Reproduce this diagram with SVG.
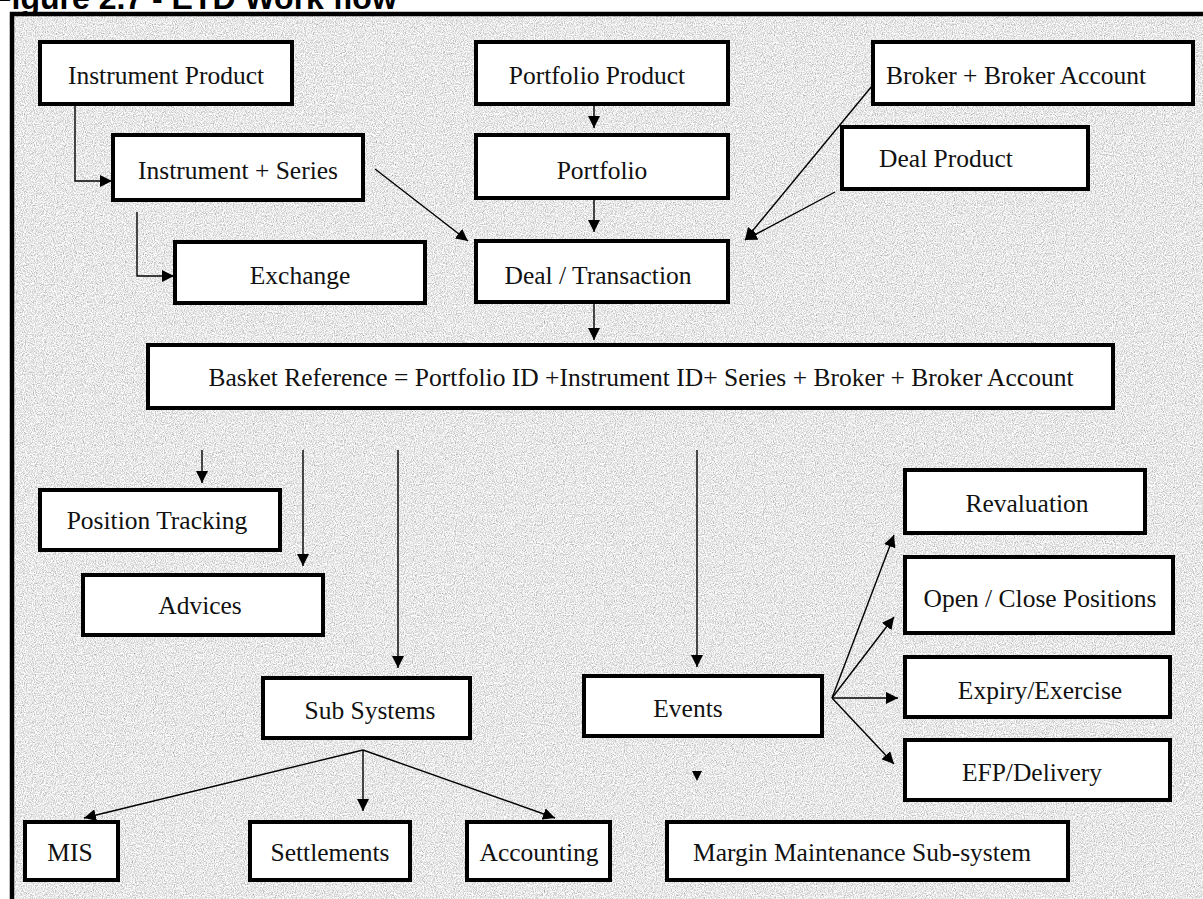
<svg xmlns="http://www.w3.org/2000/svg" width="1203" height="899" viewBox="0 0 1203 899">
<defs>
<filter id="grain" x="0" y="0" width="100%" height="100%" color-interpolation-filters="sRGB">
<feTurbulence type="fractalNoise" baseFrequency="0.9" numOctaves="3" seed="5" result="t"/>
<feColorMatrix in="t" type="matrix" values="0.33 0.33 0.33 0 0  0.33 0.33 0.33 0 0  0.33 0.33 0.33 0 0  0 0 0 0 1"/>
<feComponentTransfer>
<feFuncR type="linear" slope="1.05" intercept="0.39"/>
<feFuncG type="linear" slope="1.05" intercept="0.39"/>
<feFuncB type="linear" slope="1.05" intercept="0.39"/>
</feComponentTransfer>
</filter>
<marker id="ah" markerUnits="userSpaceOnUse" markerWidth="14" markerHeight="12" refX="12" refY="6" orient="auto">
<path d="M0,0 L12,6 L0,12 Z" fill="#000"/>
</marker>
<style>
.box{fill:#fff;stroke:#000;stroke-width:4}
.lbl{font-family:"Liberation Serif","Times New Roman",serif;font-size:25.5px;fill:#111;text-anchor:middle;dominant-baseline:central}
.ln{fill:none;stroke:#000;stroke-width:1.4;marker-end:url(#ah)}
</style>
</defs>
<rect x="0" y="0" width="1203" height="899" fill="#fff"/>
<text x="-8" y="9" font-family="Liberation Sans, Arial, sans-serif" font-weight="bold" font-size="32" fill="#000">Figure 2.7 - ETD Work flow</text>
<rect x="12" y="14" width="1210" height="900" fill="#e0e0e0" filter="url(#grain)"/>
<rect x="12" y="14" width="1210" height="900" fill="none" stroke="#000" stroke-width="4.5"/>

<g id="connectors">
<polyline class="ln" points="75,105 75,181 112,181"/>
<polyline class="ln" points="137,212 137,276 174,276"/>
<line class="ln" x1="375" y1="169" x2="468" y2="241"/>
<line class="ln" x1="594" y1="105" x2="594" y2="128"/>
<line class="ln" x1="594" y1="199" x2="594" y2="232"/>
<line class="ln" x1="872" y1="86" x2="745" y2="240"/>
<line class="ln" x1="835" y1="192" x2="745" y2="240"/>
<line class="ln" x1="594" y1="303" x2="594" y2="340"/>
<line class="ln" x1="202" y1="450" x2="202" y2="483"/>
<line class="ln" x1="303" y1="450" x2="303" y2="566"/>
<line class="ln" x1="398" y1="450" x2="398" y2="668"/>
<line class="ln" x1="697" y1="450" x2="697" y2="667"/>
<line class="ln" x1="832" y1="698" x2="894" y2="535"/>
<line class="ln" x1="832" y1="698" x2="894" y2="617"/>
<line class="ln" x1="832" y1="698" x2="898" y2="698"/>
<line class="ln" x1="832" y1="698" x2="894" y2="764"/>
<line class="ln" x1="363" y1="750" x2="84" y2="818"/>
<line class="ln" x1="363" y1="750" x2="363" y2="811"/>
<line class="ln" x1="363" y1="750" x2="555" y2="818"/>
<path d="M692,771 L702,771 L697,781 Z" fill="#000"/>
</g>

<g id="instrument-product"><rect class="box" x="40" y="42" width="252" height="62"/><text class="lbl" x="166" y="75">Instrument Product</text></g>
<g id="instrument-series"><rect class="box" x="113" y="135" width="250" height="65"/><text class="lbl" x="238" y="170">Instrument + Series</text></g>
<g id="exchange"><rect class="box" x="175" y="242" width="250" height="61"/><text class="lbl" x="300" y="275">Exchange</text></g>
<g id="portfolio-product"><rect class="box" x="476" y="42" width="252" height="62"/><text class="lbl" x="597" y="75">Portfolio Product</text></g>
<g id="portfolio"><rect class="box" x="476" y="135" width="252" height="63"/><text class="lbl" x="602" y="170">Portfolio</text></g>
<g id="deal-transaction"><rect class="box" x="476" y="241" width="252" height="61"/><text class="lbl" x="598" y="275">Deal / Transaction</text></g>
<g id="broker"><rect class="box" x="873" y="42" width="320" height="62"/><text class="lbl" x="1016" y="75">Broker + Broker Account</text></g>
<g id="deal-product"><rect class="box" x="842" y="127" width="246" height="62"/><text class="lbl" x="946" y="158">Deal Product</text></g>
<g id="basket"><rect class="box" x="148" y="345" width="965" height="63"/><text class="lbl" x="641" y="377">Basket Reference = Portfolio ID +Instrument ID+ Series + Broker + Broker Account</text></g>
<g id="position-tracking"><rect class="box" x="40" y="490" width="240" height="60"/><text class="lbl" x="157" y="520">Position Tracking</text></g>
<g id="advices"><rect class="box" x="83" y="575" width="240" height="60"/><text class="lbl" x="200" y="605">Advices</text></g>
<g id="sub-systems"><rect class="box" x="263" y="678" width="207" height="60"/><text class="lbl" x="370" y="710">Sub Systems</text></g>
<g id="events"><rect class="box" x="584" y="676" width="238" height="60"/><text class="lbl" x="688" y="708">Events</text></g>
<g id="revaluation"><rect class="box" x="905" y="470" width="240" height="63"/><text class="lbl" x="1027" y="503">Revaluation</text></g>
<g id="open-close"><rect class="box" x="905" y="557" width="268" height="76"/><text class="lbl" x="1040" y="598">Open / Close Positions</text></g>
<g id="expiry"><rect class="box" x="905" y="657" width="265" height="60"/><text class="lbl" x="1040" y="690">Expiry/Exercise</text></g>
<g id="efp"><rect class="box" x="905" y="740" width="265" height="60"/><text class="lbl" x="1032" y="772">EFP/Delivery</text></g>
<g id="mis"><rect class="box" x="25" y="822" width="93" height="58"/><text class="lbl" x="70" y="852">MIS</text></g>
<g id="settlements"><rect class="box" x="250" y="822" width="160" height="58"/><text class="lbl" x="330" y="852">Settlements</text></g>
<g id="accounting"><rect class="box" x="467" y="822" width="143" height="58"/><text class="lbl" x="539" y="852">Accounting</text></g>
<g id="margin"><rect class="box" x="667" y="822" width="401" height="58"/><text class="lbl" x="862" y="852">Margin Maintenance Sub-system</text></g>
</svg>
